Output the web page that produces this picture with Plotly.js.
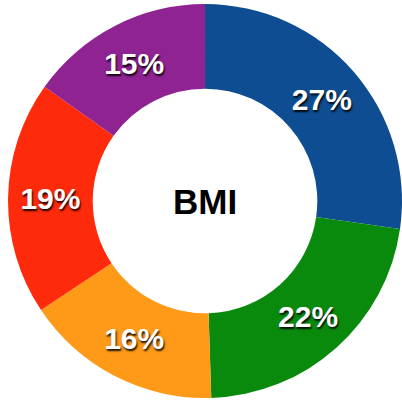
<!DOCTYPE html>
<html>
<head>
<meta charset="utf-8">
<script src="https://cdn.plot.ly/plotly-3.0.1.min.js"></script>
<style>html,body{margin:0;padding:0;background:#fff;}#chart{width:402px;height:402px;}</style>
</head>
<body>
<div id="chart"></div>
<script>
var categories = ["Category A", "Category B", "Category C", "Category D", "Category E"];
var shares = [27, 22, 16, 19, 15];
var sliceColors = ["#0e4d91", "#0a8a0d", "#fe9a18", "#fe2a0c", "#8f2392"];
var centerLabel = "BMI";

var trace = {
  type: "pie",
  labels: categories,
  values: shares,
  hole: 0.57,
  sort: false,
  direction: "clockwise",
  rotation: 0,
  marker: {colors: sliceColors, line: {width: 0}},
  texttemplate: "%{value}%",
  textposition: "inside",
  insidetextorientation: "horizontal",
  textfont: {family: "Liberation Sans, Arial, sans-serif", size: 30, color: "#ffffff", weight: "bold", shadow: "1px 2px 2px rgba(0,0,0,0.9)"},
  hoverinfo: "none",
  showlegend: false,
  domain: {x: [0.02, 1], y: [0.0, 1.0]}
};

var layout = {
  width: 402, height: 402,
  margin: {l: 0, r: 0, t: 0, b: 0},
  paper_bgcolor: "#ffffff",
  showlegend: false,
  annotations: [{
    text: "<b>" + centerLabel + "</b>",
    x: 0.51, y: 0.5, xref: "paper", yref: "paper",
    showarrow: false,
    font: {family: "Liberation Sans, Arial, sans-serif", size: 35, color: "#000000"}
  }]
};

Plotly.newPlot("chart", [trace], layout, {staticPlot: true});
</script>
</body>
</html>
